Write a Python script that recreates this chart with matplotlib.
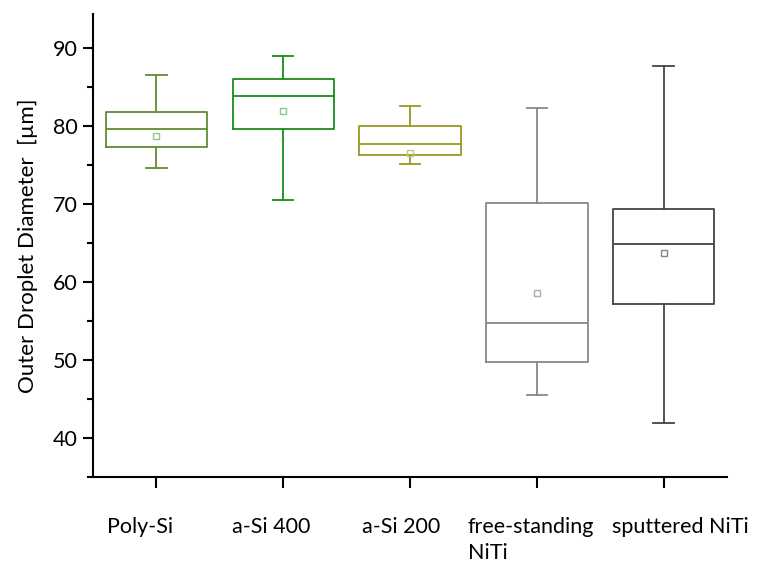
import matplotlib
matplotlib.use("Agg")
import matplotlib.pyplot as plt
import matplotlib.transforms as mtransforms
from matplotlib.ticker import MultipleLocator

plt.rcParams['font.family'] = ['Lato', 'DejaVu Sans']

categories = ["Poly-Si", "a-Si 400", "a-Si 200", "free-standing\nNiTi", "sputtered NiTi"]
whislo = [74.6, 70.6, 75.2, 45.5, 41.9]
q1 = [77.4, 79.7, 76.3, 49.8, 57.2]
med = [79.6, 83.9, 77.7, 54.8, 64.9]
q3 = [81.9, 86.1, 80.0, 70.2, 69.4]
whishi = [86.6, 89.0, 82.6, 82.3, 87.7]
means = [78.8, 82.0, 76.6, 58.6, 63.7]
colors = ["#5e8c30", "#1a8c1a", "#999922", "#888888", "#444444"]
mean_colors = ["#9ec08a", "#8cc88c", "#c4c47a", "#aaaaaa", "#888888"]
# horizontal offsets (pixels) of the left edge of each category label from its tick
label_dx = [-49, -51, -48, -69, -52]

fig = plt.figure(figsize=(7.6, 5.64), dpi=100)
ax = fig.add_axes([0.1224, 0.1543, 0.8342, 0.8207])

for i in range(len(categories)):
    st = dict(whislo=whislo[i], q1=q1[i], med=med[i], q3=q3[i], whishi=whishi[i],
              mean=means[i], fliers=[])
    c = colors[i]
    ax.bxp([st], positions=[i], widths=0.8, showmeans=True, showfliers=False,
           boxprops=dict(color=c, linewidth=1.3),
           medianprops=dict(color=c, linewidth=1.3),
           whiskerprops=dict(color=c, linewidth=1.3),
           capprops=dict(color=c, linewidth=1.3),
           capwidths=0.16,
           meanprops=dict(marker='s', markerfacecolor='none', markeredgecolor=mean_colors[i],
                          markersize=5, markeredgewidth=1.0))

ax.set_xlim(-0.5, 4.5)
ax.set_ylim(35, 94.4)
ax.set_xticks(range(len(categories)))
ax.set_xticklabels([])
base = mtransforms.blended_transform_factory(ax.transData, ax.transAxes)
for i, (lab, dx) in enumerate(zip(categories, label_dx)):
    tr = base + mtransforms.ScaledTranslation(dx / 100, -40 / 100, fig.dpi_scale_trans)
    ax.text(i, 0, lab, transform=tr, ha='left', va='top', multialignment='left',
            linespacing=1.35, fontsize=15.5, clip_on=False)

ax.yaxis.set_major_locator(MultipleLocator(10))
ax.yaxis.set_minor_locator(MultipleLocator(5))
ax.set_yticks([40, 50, 60, 70, 80, 90])
for s in ['top', 'right']:
    ax.spines[s].set_visible(False)
for s in ['left', 'bottom']:
    ax.spines[s].set_linewidth(1.5)
ax.tick_params(axis='x', direction='out', length=8, width=1.5)
ax.tick_params(axis='y', which='major', direction='out', length=7.5, width=1.5, labelsize=15.5)
ax.tick_params(axis='y', which='minor', direction='out', length=4, width=1.5)
ax.set_ylabel("Outer Droplet Diameter  [µm]", fontsize=16, labelpad=11)

fig.savefig("out.png", dpi=100)
